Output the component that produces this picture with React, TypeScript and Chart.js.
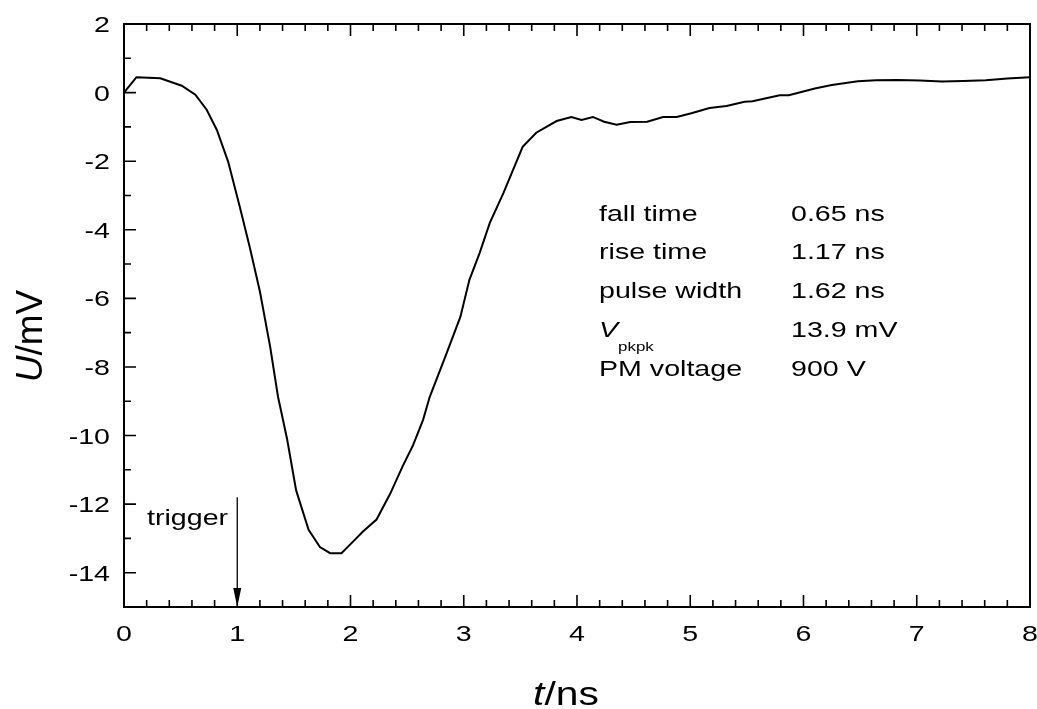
import React, { useEffect, useRef } from "react";
import { Chart, registerables } from "chart.js";

Chart.register(...registerables);

// ---- data ----
const timeNs = [
  0, 0.11, 0.32, 0.51, 0.63, 0.73, 0.82, 0.92, 1.02, 1.11, 1.2, 1.29, 1.36, 1.44, 1.52,
  1.63, 1.73, 1.82, 1.92, 2.02, 2.11, 2.23, 2.35, 2.46, 2.55, 2.64, 2.7, 2.85, 2.97,
  3.05, 3.14, 3.23, 3.35, 3.52, 3.64, 3.82, 3.95, 4.04, 4.14, 4.24, 4.35, 4.47, 4.62,
  4.76, 4.88, 5.01, 5.17, 5.32, 5.48, 5.55, 5.79, 5.87, 6.1, 6.25, 6.48, 6.64, 6.83,
  7.03, 7.22, 7.41, 7.61, 7.8, 8.0,
];
const voltageMv = [
  0, 0.45, 0.42, 0.2, -0.06, -0.5, -1.09, -2.02, -3.3, -4.5, -5.8, -7.4, -8.87, -10.1,
  -11.6, -12.75, -13.25, -13.43, -13.43, -13.1, -12.8, -12.45, -11.7, -10.9, -10.3,
  -9.55, -8.87, -7.59, -6.54, -5.46, -4.68, -3.8, -2.93, -1.58, -1.17, -0.83, -0.71,
  -0.8, -0.71, -0.85, -0.94, -0.86, -0.85, -0.71, -0.71, -0.6, -0.45, -0.39, -0.27,
  -0.25, -0.08, -0.08, 0.12, 0.22, 0.33, 0.36, 0.37, 0.35, 0.32, 0.34, 0.36, 0.41, 0.45,
];

const xMajorTicks = [0, 1, 2, 3, 4, 5, 6, 7, 8];
const xMinorTicks = [
  0.2, 0.4, 0.6, 0.8, 1.2, 1.4, 1.6, 1.8, 2.2, 2.4, 2.6, 2.8, 3.2, 3.4, 3.6, 3.8,
  4.2, 4.4, 4.6, 4.8, 5.2, 5.4, 5.6, 5.8, 6.2, 6.4, 6.6, 6.8, 7.2, 7.4, 7.6, 7.8,
];
const yMajorTicks = [-14, -12, -10, -8, -6, -4, -2, 0, 2];
const yMinorTicks = [-13, -11, -9, -7, -5, -3, -1, 1];

const infoLabels = ["fall time", "rise time", "pulse width", "V", "PM voltage"];
const infoValues = ["0.65 ns", "1.17 ns", "1.62 ns", "13.9 mV", "900 V"];
const triggerTime = 1;
const triggerFrom = -11.8;

const FONT = '"Liberation Sans", Arial, Helvetica, sans-serif';
const SX = 1.3;

type Run = { text: string; font: string; dy?: number };

function drawRuns(ctx: CanvasRenderingContext2D, runs: Run[], x: number, y: number, align: string, sx: number) {
  let w = 0;
  for (const r of runs) {
    ctx.font = r.font;
    w += ctx.measureText(r.text).width;
  }
  const start = align === "right" ? x - w * sx : align === "center" ? x - (w * sx) / 2 : x;
  ctx.save();
  ctx.translate(start, y);
  ctx.scale(sx, 1);
  ctx.textAlign = "left";
  ctx.textBaseline = "alphabetic";
  ctx.fillStyle = "#000";
  let cx = 0;
  for (const r of runs) {
    ctx.font = r.font;
    ctx.fillText(r.text, cx, r.dy || 0);
    cx += ctx.measureText(r.text).width;
  }
  ctx.restore();
}

const decorPlugin = {
  id: "decor",
  afterDraw(chart: any) {
    const ctx: CanvasRenderingContext2D = chart.ctx;
    const { left, right, top, bottom } = chart.chartArea;
    const xs = chart.scales.x;
    const ys = chart.scales.y;
    ctx.save();
    ctx.strokeStyle = "#000";
    ctx.fillStyle = "#000";

    // frame
    ctx.lineWidth = 2;
    ctx.strokeRect(left, top, right - left, bottom - top);

    // ticks (inward)
    ctx.lineWidth = 1.6;
    ctx.beginPath();
    const major = 12;
    const minor = 7;
    for (const v of xMajorTicks) {
      const p = xs.getPixelForValue(v);
      ctx.moveTo(p, bottom);
      ctx.lineTo(p, bottom - major);
      ctx.moveTo(p, top);
      ctx.lineTo(p, top + major);
    }
    for (const v of xMinorTicks) {
      const p = xs.getPixelForValue(v);
      ctx.moveTo(p, bottom);
      ctx.lineTo(p, bottom - minor);
      ctx.moveTo(p, top);
      ctx.lineTo(p, top + minor);
    }
    for (const v of yMajorTicks) {
      const p = ys.getPixelForValue(v);
      ctx.moveTo(left, p);
      ctx.lineTo(left + major, p);
    }
    for (const v of yMinorTicks) {
      const p = ys.getPixelForValue(v);
      ctx.moveTo(left, p);
      ctx.lineTo(left + minor, p);
    }
    ctx.stroke();

    // tick labels
    const tickFont = `22px ${FONT}`;
    for (const v of xMajorTicks) {
      drawRuns(ctx, [{ text: String(v), font: tickFont }], xs.getPixelForValue(v), bottom + 34, "center", SX);
    }
    for (const v of yMajorTicks) {
      drawRuns(ctx, [{ text: String(v), font: tickFont }], left - 14, ys.getPixelForValue(v) + 8, "right", SX);
    }

    // axis titles
    drawRuns(
      ctx,
      [
        { text: "t", font: `italic 34px ${FONT}` },
        { text: "/ns", font: `34px ${FONT}` },
      ],
      566,
      705,
      "center",
      1.2
    );
    ctx.save();
    ctx.translate(42, 336);
    ctx.rotate(-Math.PI / 2);
    drawRuns(
      ctx,
      [
        { text: "U", font: `italic 37px ${FONT}` },
        { text: "/mV", font: `37px ${FONT}` },
      ],
      0,
      0,
      "center",
      1
    );
    ctx.restore();

    // info block
    const infoFont = `22px ${FONT}`;
    const rowBase = [221, 259, 298, 337, 376];
    infoLabels.forEach((lab, i) => {
      const runs: Run[] =
        lab === "V"
          ? [
              { text: "V", font: `italic 22px ${FONT}` },
              { text: "pkpk", font: `13px ${FONT}`, dy: 14 },
            ]
          : [{ text: lab, font: infoFont }];
      drawRuns(ctx, runs, 599, rowBase[i], "left", SX);
      drawRuns(ctx, [{ text: infoValues[i], font: infoFont }], 791, rowBase[i], "left", SX);
    });

    // trigger arrow
    const tx = xs.getPixelForValue(triggerTime);
    const ty0 = ys.getPixelForValue(triggerFrom);
    ctx.lineWidth = 1.3;
    ctx.beginPath();
    ctx.moveTo(tx, ty0);
    ctx.lineTo(tx, bottom - 16);
    ctx.stroke();
    ctx.beginPath();
    ctx.moveTo(tx - 4, bottom - 19);
    ctx.lineTo(tx + 4, bottom - 19);
    ctx.lineTo(tx, bottom);
    ctx.closePath();
    ctx.fill();
    drawRuns(ctx, [{ text: "trigger", font: infoFont }], 147, 525, "left", SX);

    ctx.restore();
  },
};

export default function App() {
  const canvasRef = useRef<HTMLCanvasElement | null>(null);

  useEffect(() => {
    const canvas = canvasRef.current;
    if (!canvas) return;
    const points = timeNs.map((t, i) => ({ x: t, y: voltageMv[i] }));
    const chart = new Chart(canvas, {
      type: "line",
      data: {
        datasets: [
          {
            data: points,
            borderColor: "#000",
            borderWidth: 2,
            pointRadius: 0,
            tension: 0,
            fill: false,
          },
        ],
      },
      options: {
        animation: false,
        responsive: false,
        devicePixelRatio: 1,
        layout: { padding: { top: 24, right: 7, left: 0, bottom: 0 } },
        plugins: { legend: { display: false }, tooltip: { enabled: false } },
        scales: {
          x: {
            type: "linear",
            min: 0,
            max: 8,
            grid: { display: false },
            border: { display: false },
            ticks: { display: false },
            afterBuildTicks: (s: any) => {
              s.ticks = xMajorTicks.map((v) => ({ value: v }));
            },
            afterFit: (s: any) => {
              s.height = 102;
            },
          },
          y: {
            type: "linear",
            min: -15,
            max: 2,
            grid: { display: false },
            border: { display: false },
            ticks: { display: false },
            afterBuildTicks: (s: any) => {
              s.ticks = yMajorTicks.map((v) => ({ value: v }));
            },
            afterFit: (s: any) => {
              s.width = 124;
            },
          },
        },
      } as any,
      plugins: [decorPlugin],
    });
    return () => chart.destroy();
  }, []);

  return (
    <div style={{ position: "fixed", left: 0, top: 0, width: 1037, height: 709, background: "#fff" }}>
      <canvas ref={canvasRef} width={1037} height={709} style={{ display: "block" }} />
    </div>
  );
}
